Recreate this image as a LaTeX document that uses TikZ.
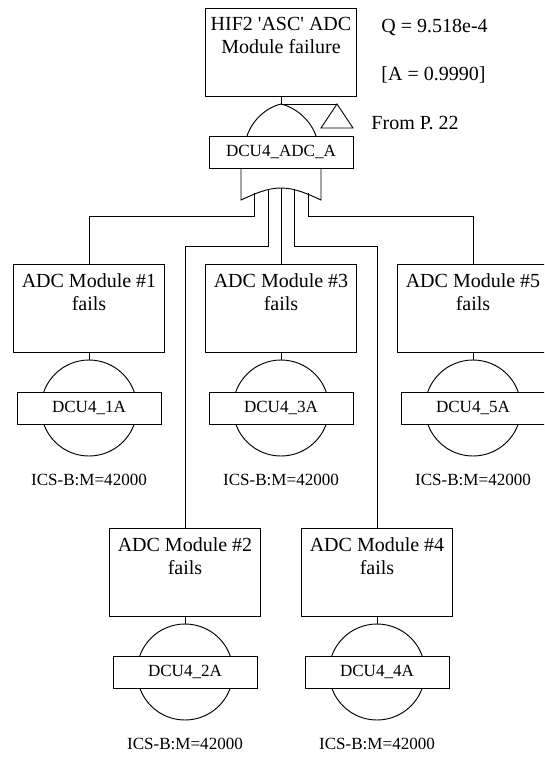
\documentclass[tikz,border=0pt]{standalone}
\usepackage{fontspec}
\setmainfont{Liberation Serif}
\newfontfamily\plainquote{Liberation Serif}
\tikzset{
  evbox/.style={draw,minimum width=113pt,minimum height=66pt,anchor=north,inner sep=0pt},
  idbox/.style={draw,fill=white,minimum width=108pt,minimum height=24pt,inner sep=0pt,font=\fontsize{12.8}{14}\selectfont},
  evtext/.style={align=center,anchor=north,inner sep=0pt,font=\fontsize{15}{17.25}\selectfont},
  small/.style={inner sep=0pt,font=\fontsize{12.8}{14}\selectfont},
  big/.style={inner sep=0pt,font=\fontsize{15}{17}\selectfont,anchor=west},
  basic/.style={draw,circle,minimum size=72pt,inner sep=0pt}
}
\newcommand{\branch}[5]{% name, cx, top, module, id
  \node[evbox] (box#1) at (#2,#3) {};
  \node[evtext] (txt#1) at (#2,#3+9) {ADC Module \##4\\fails};
  \node[basic] (circ#1) at (#2,#3+144) {};
  \node[idbox] (id#1) at (#2,#3+144) {#5};
  \node[small] (src#1) at (#2,#3+216) {ICS-B:M=42000};
  \draw (box#1.south) -- (circ#1.north);
}
\begin{document}
\begin{tikzpicture}[x=0.75pt,y=-0.75pt,line width=0.7pt]
\useasboundingbox (0,0) rectangle (544,757);
\clip (0,0) rectangle (544,757);
% top event
\node[evbox] (top) at (281,8) {};
\node[evtext] (toptxt) at (281,17) {{\plainquote HIF2 'ASC' ADC}\\Module failure};
\node[big] (q) at (381,27) {Q = 9.518e-4};
\node[big] (a) at (381,75) {[A = 0.9990]};
\node[big] (from) at (371,123) {From P. 22};
% top gate
\coordinate (apex) at (281,104);
\coordinate (tl) at (247,136);
\coordinate (tr) at (316,136);
\draw (top.south) -- (apex);
\draw (tl) .. controls (252,121) and (265,108) .. (apex) .. controls (297,108) and (311,121) .. (tr);
% transfer triangle
\coordinate (triA) at (337,104);
\coordinate (triL) at (321,128);
\coordinate (triR) at (353,128);
\draw (apex) -- (triA);
\draw (triA) -- (triL) -- (triR) -- cycle;
\node[idbox] (gate) at (281,152) {DCU4\_ADC\_A};
% OR gate below
\coordinate (ol) at (241,168);
\coordinate (or) at (321,168);
\coordinate (obl) at (241,200);
\coordinate (obr) at (321,200);
\coordinate (omid) at (281,188);
\draw (ol) -- (obl) .. controls (254,194) and (267,188) .. (omid) .. controls (295,188) and (308,194) .. (obr) -- (or);
% branches
\branch{a}{89}{264}{1}{DCU4\_1A}
\branch{c}{281}{264}{3}{DCU4\_3A}
\branch{e}{473}{264}{5}{DCU4\_5A}
\branch{b}{185}{528}{2}{DCU4\_2A}
\branch{d}{377}{528}{4}{DCU4\_4A}
% connectors
\coordinate (s1) at (254,192.5);
\coordinate (s2) at (268,189);
\coordinate (s4) at (294,189);
\coordinate (s5) at (308,192.5);
\draw (s1) -- (254,216) -| (boxa.north);
\draw (s2) -- (268,246) -| (boxb.north);
\draw (omid) -- (boxc.north);
\draw (s4) -- (294,246) -| (boxd.north);
\draw (s5) -- (308,216) -| (boxe.north);
\end{tikzpicture}
\end{document}
